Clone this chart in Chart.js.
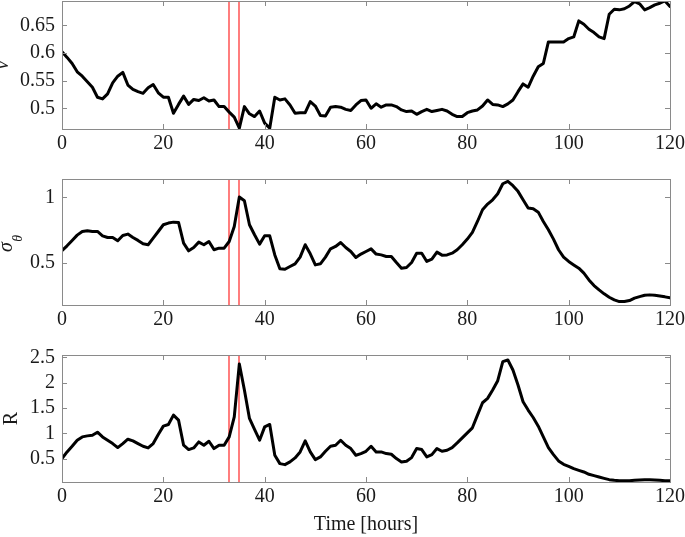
<!DOCTYPE html>
<html><head><meta charset="utf-8">
<script src="https://cdn.jsdelivr.net/npm/chart.js@4"></script>
<style>
html,body{margin:0;padding:0;background:#fff;}
#wrap{position:relative;width:685px;height:537px;overflow:hidden;background:#fff;}
.pan{position:absolute;left:0;width:685px;}
canvas{display:block;}
</style></head><body>
<div id="wrap">
<div class="pan" style="top:0px;height:160px"><canvas id="c1" width="685" height="160"></canvas></div>
<div class="pan" style="top:160px;height:180px"><canvas id="c2" width="685" height="180"></canvas></div>
<div class="pan" style="top:340px;height:197px"><canvas id="c3" width="685" height="197"></canvas></div>
</div>
<script>
// ---- data ----
const hours = [0,1,2,3,4,5,6,7,8,9,10,11,12,13,14,15,16,17,18,19,20,21,22,23,24,25,26,27,28,29,30,31,32,33,34,35,36,37,38,39,40,41,42,43,44,45,46,47,48,49,50,51,52,53,54,55,56,57,58,59,60,61,62,63,64,65,66,67,68,69,70,71,72,73,74,75,76,77,78,79,80,81,82,83,84,85,86,87,88,89,90,91,92,93,94,95,96,97,98,99,100,101,102,103,104,105,106,107,108,109,110,111,112,113,114,115,116,117,118,119,120];

const nuValues = [0.602,0.592,0.581,0.566,0.558,0.548,0.538,0.520,0.517,0.526,0.546,0.558,0.565,0.542,0.534,0.530,0.527,0.537,0.543,0.528,0.520,0.520,0.491,0.507,0.522,0.507,0.516,0.514,0.519,0.513,0.515,0.503,0.503,0.493,0.484,0.464,0.503,0.490,0.485,0.495,0.473,0.464,0.520,0.515,0.517,0.506,0.491,0.492,0.492,0.512,0.504,0.487,0.486,0.502,0.503,0.502,0.498,0.496,0.506,0.514,0.515,0.500,0.508,0.502,0.506,0.506,0.503,0.497,0.494,0.495,0.489,0.494,0.498,0.494,0.496,0.498,0.495,0.489,0.485,0.485,0.492,0.495,0.497,0.504,0.515,0.507,0.506,0.503,0.508,0.515,0.530,0.544,0.538,0.558,0.575,0.581,0.620,0.620,0.620,0.620,0.626,0.629,0.658,0.652,0.643,0.637,0.629,0.626,0.670,0.679,0.678,0.680,0.685,0.693,0.689,0.678,0.682,0.687,0.690,0.694,0.684];

const sigmaValues = [0.596,0.632,0.673,0.713,0.741,0.746,0.741,0.741,0.708,0.695,0.695,0.670,0.711,0.721,0.695,0.673,0.647,0.640,0.690,0.741,0.792,0.805,0.812,0.810,0.652,0.594,0.619,0.660,0.640,0.665,0.602,0.614,0.614,0.665,0.779,1.003,0.975,0.792,0.716,0.645,0.708,0.708,0.563,0.457,0.454,0.475,0.495,0.546,0.640,0.571,0.487,0.495,0.546,0.609,0.627,0.657,0.619,0.589,0.543,0.569,0.589,0.609,0.569,0.563,0.551,0.551,0.505,0.462,0.467,0.505,0.576,0.576,0.513,0.530,0.584,0.561,0.563,0.576,0.602,0.640,0.683,0.734,0.817,0.906,0.949,0.982,1.028,1.104,1.122,1.089,1.046,0.982,0.919,0.914,0.888,0.817,0.754,0.683,0.602,0.546,0.513,0.487,0.462,0.424,0.373,0.330,0.297,0.267,0.241,0.221,0.208,0.208,0.216,0.234,0.246,0.256,0.259,0.256,0.251,0.244,0.236];

const rValues = [0.500,0.632,0.744,0.863,0.929,0.949,0.962,1.022,0.929,0.863,0.797,0.718,0.797,0.883,0.850,0.797,0.744,0.711,0.797,0.976,1.141,1.174,1.359,1.260,0.764,0.678,0.711,0.830,0.764,0.843,0.698,0.764,0.764,0.929,1.326,2.369,1.854,1.293,1.075,0.863,1.127,1.174,0.566,0.401,0.381,0.434,0.513,0.632,0.850,0.632,0.480,0.533,0.645,0.744,0.764,0.863,0.764,0.698,0.566,0.599,0.645,0.744,0.632,0.632,0.599,0.586,0.500,0.434,0.447,0.520,0.698,0.678,0.533,0.579,0.698,0.645,0.665,0.718,0.810,0.910,1.009,1.108,1.359,1.603,1.689,1.854,2.039,2.415,2.448,2.250,1.953,1.623,1.458,1.312,1.141,0.929,0.718,0.579,0.454,0.388,0.348,0.302,0.269,0.236,0.190,0.163,0.137,0.110,0.084,0.071,0.064,0.064,0.064,0.071,0.077,0.084,0.084,0.077,0.071,0.064,0.064];

const xTicks = [0,20,40,60,80,100,120];
const nuTicks = [0.5,0.55,0.6,0.65];
const sigmaTicks = [0.5,1];
const rTicks = [0.5,1,1.5,2,2.5];
const eventHours = [33,35];
const xRange = [0,120];
const nuRange = [0.4625,0.694];
const sigmaRange = [0.182,1.14];
const rRange = [0.038,2.546];

// ---- styling ----
const FONT = "'Liberation Serif','Times New Roman',serif";
const FS = 20;
const TXT = '#1a1a1a';
const BOX = '#8a8a8a';
const EVENT = 'rgba(255,0,0,0.85)';

const framePlugin = {
  id:'frame',
  beforeDatasetsDraw(chart){
    const {ctx, chartArea:a, scales:{x}} = chart;
    ctx.save();
    ctx.strokeStyle = EVENT;
    ctx.lineWidth = 1.2;
    eventHours.forEach(h=>{
      const px = Math.round(x.getPixelForValue(h));
      ctx.beginPath(); ctx.moveTo(px, a.top); ctx.lineTo(px, a.bottom); ctx.stroke();
    });
    ctx.restore();
  },
  afterDatasetsDraw(chart){
    const {ctx, chartArea:a, scales:{x,y}} = chart;
    const L = 5;
    ctx.save();
    ctx.strokeStyle = BOX;
    ctx.lineWidth = 1;
    ctx.strokeRect(Math.round(a.left)+0.5, Math.round(a.top)+0.5, Math.round(a.right-a.left), Math.round(a.bottom-a.top));
    ctx.beginPath();
    x.ticks.forEach(t=>{
      const px = Math.round(x.getPixelForValue(t.value))+0.5;
      ctx.moveTo(px, a.bottom); ctx.lineTo(px, a.bottom-L);
      ctx.moveTo(px, a.top); ctx.lineTo(px, a.top+L);
    });
    y.ticks.forEach(t=>{
      const py = Math.round(y.getPixelForValue(t.value))+0.5;
      ctx.moveTo(a.left, py); ctx.lineTo(a.left+L, py);
      ctx.moveTo(a.right, py); ctx.lineTo(a.right-L, py);
    });
    ctx.stroke();
    ctx.restore();
  }
};

// subscript y-label for sigma_theta
const sigmaLabel = {
  id:'sigmaLabel',
  afterDraw(chart){
    const {ctx, chartArea:a} = chart;
    const cy = (a.top + a.bottom)/2;
    ctx.save();
    ctx.fillStyle = TXT;
    ctx.translate(12, cy + 10);
    ctx.rotate(-Math.PI/2);
    ctx.textBaseline = 'alphabetic';
    ctx.textAlign = 'left';
    ctx.font = "italic " + FS + "px " + FONT;
    ctx.fillText('σ', 0, 0);
    const w = ctx.measureText('σ').width;
    ctx.font = "italic 14px " + FONT;
    ctx.fillText('θ', w + 0.5, 10);
    ctx.restore();
  }
};

function makeChart(id, values, yRange, yTicksArr, yTitle, yTitlePad, padTop, xAxisH, xTitle, extra){
  return new Chart(document.getElementById(id), {
    type:'line',
    data:{labels:hours, datasets:[{data:values, borderColor:'#000', borderWidth:3, pointRadius:0, tension:0, fill:false, clip:0, borderJoinStyle:'round', borderCapStyle:'round'}]},
    options:{
      responsive:false, animation:false, devicePixelRatio:1,
      layout:{padding:{top:padTop, right:15, left:0, bottom:0}},
      plugins:{legend:{display:false}, tooltip:{enabled:false}},
      scales:{
        x:{
          type:'linear', min:xRange[0], max:xRange[1],
          afterBuildTicks:s=>{ s.ticks = xTicks.map(v=>({value:v})); },
          afterFit:s=>{ s.height = xAxisH; s.paddingLeft = 0; s.paddingRight = 0; },
          grid:{display:false, drawTicks:false}, border:{display:false},
          ticks:{padding:3, maxRotation:0, autoSkip:false, color:TXT, font:{family:FONT, size:FS}},
          title: xTitle ? {display:true, text:xTitle, color:TXT, font:{family:FONT, size:FS}, padding:{top:0,bottom:0}} : {display:false}
        },
        y:{
          type:'linear', min:yRange[0], max:yRange[1],
          afterBuildTicks:s=>{ s.ticks = yTicksArr.map(v=>({value:v})); },
          afterFit:s=>{ s.width = 62; s.paddingTop = 0; s.paddingBottom = 0; },
          grid:{display:false, drawTicks:false}, border:{display:false},
          ticks:{padding:7, color:TXT, font:{family:FONT, size:FS}, callback:v=>String(v)},
          title: yTitle ? {display:true, text:yTitle, color:TXT, font:{family:FONT, size:FS, style:yTitle==='ν'?'italic':'normal'}, padding:{top:yTitlePad, bottom:0}} : {display:false}
        }
      }
    },
    plugins: extra ? [framePlugin, extra] : [framePlugin]
  });
}

makeChart('c1', nuValues, nuRange, nuTicks, 'ν', -9, 1, 31, null, null);
makeChart('c2', sigmaValues, sigmaRange, sigmaTicks, null, 0, 19, 35, null, sigmaLabel);
makeChart('c3', rValues, rRange, rTicks, 'R', 0, 15, 55, 'Time [hours]', null);
</script>
</body></html>
